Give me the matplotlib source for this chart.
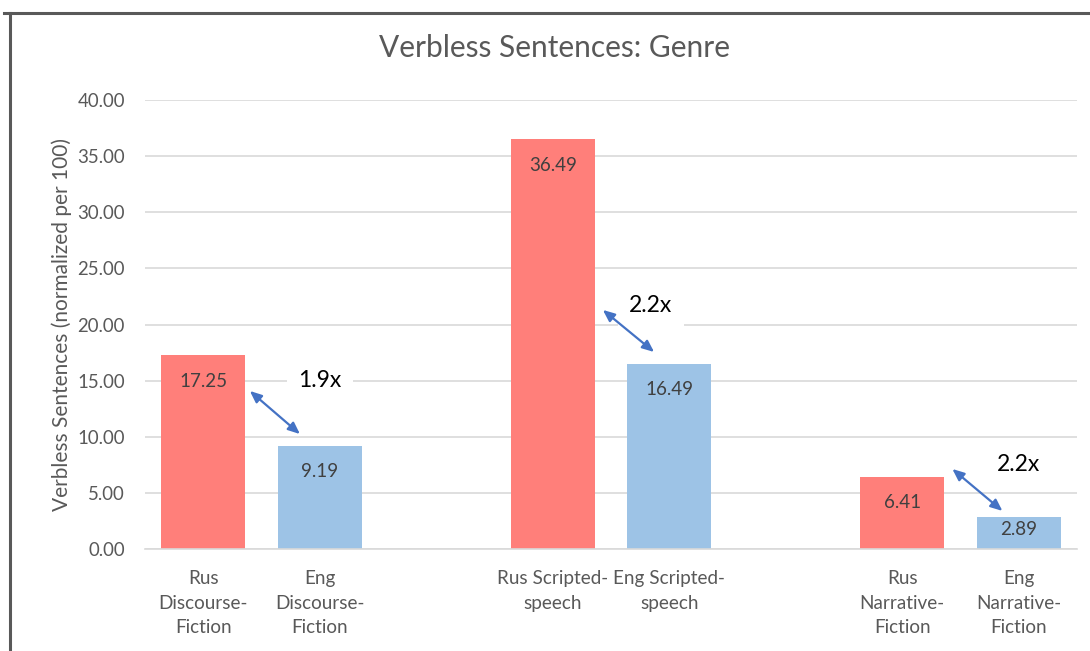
import matplotlib
matplotlib.use("Agg")
import matplotlib.pyplot as plt
from matplotlib.lines import Line2D

categories = ["Rus\nDiscourse-\nFiction", "Eng\nDiscourse-\nFiction", "",
              "Rus Scripted-\nspeech", "Eng Scripted-\nspeech", "",
              "Rus\nNarrative-\nFiction", "Eng\nNarrative-\nFiction"]
values = [17.25, 9.19, None, 36.49, 16.49, None, 6.41, 2.89]
value_labels = ["17.25", "9.19", "", "36.49", "16.49", "", "6.41", "2.89"]
bar_colors = ["#FF7F7A", "#9DC3E6", None, "#FF7F7A", "#9DC3E6", None, "#FF7F7A", "#9DC3E6"]
yticks = [0, 5, 10, 15, 20, 25, 30, 35, 40]
ratio_labels = ["1.9x", "2.2x", "2.2x"]
ratio_label_pos = [(1.0, 14.97), (3.84, 21.65), (7.0, 7.57)]
arrows = [((0.40, 14.08), (0.83, 10.24)),
          ((3.43, 21.3), (3.87, 17.55)),
          ((6.43, 7.13), (6.86, 3.39))]

FONT = "Lato"
TXT = "#595959"

fig = plt.figure(figsize=(10.9, 6.51), dpi=100)
ax = fig.add_axes([145/1090, 102/651, (1077-145)/1090, (549-100)/651])

xs = list(range(len(categories)))
for x, v, c, lab in zip(xs, values, bar_colors, value_labels):
    if v is None:
        continue
    ax.bar(x, v, width=0.725, color=c, zorder=2)
    ax.text(x, max(v - 2.3, v * 0.6), lab, ha="center", va="center", fontsize=13.5,
            color="#404040", family=FONT, zorder=3)

ax.set_xlim(-0.5, len(categories) - 0.5)
ax.set_ylim(0, 40)
ax.set_yticks(yticks)
ax.set_yticklabels([f"{t:.2f}" for t in yticks], family=FONT, fontsize=13.4, color=TXT)
ax.set_xticks(xs)
ax.set_xticklabels(categories, family=FONT, fontsize=13.6, color=TXT, linespacing=1.55)
ax.tick_params(axis="both", length=0)
ax.tick_params(axis="y", pad=14.5)
ax.tick_params(axis="x", pad=15)
ax.grid(axis="y", color="#D9D9D9", linewidth=1.2, zorder=0)
ax.set_axisbelow(True)
for s in ["top", "right", "left"]:
    ax.spines[s].set_visible(False)
ax.spines["bottom"].set_color("#D9D9D9")
ax.spines["bottom"].set_linewidth(1.2)

ax.set_ylabel("Verbless Sentences (normalized per 100)", family=FONT, fontsize=15,
              color=TXT, labelpad=4)

for lab, (lx, ly) in zip(ratio_labels, ratio_label_pos):
    ax.text(lx, ly, lab, ha="center", va="center", fontsize=16.5, color="black",
            family=FONT, zorder=4,
            bbox=dict(boxstyle="square,pad=0.5", fc="white", ec="none"))

for (p0, p1) in arrows:
    ax.annotate("", xy=p1, xytext=p0,
                arrowprops=dict(arrowstyle="<|-|>,head_length=0.7,head_width=0.3",
                                color="#4472C4", lw=1.6, shrinkA=0, shrinkB=0),
                zorder=5)

fig.text(555/1090, 1 - 48/651, "Verbless Sentences: Genre", ha="center", va="center",
         fontsize=21.5, color=TXT, family=FONT)

# chart border
fig.add_artist(Line2D([4/1090, 1], [1 - 13/651, 1 - 13/651], transform=fig.transFigure,
                      color="#595959", linewidth=2.2))
fig.add_artist(Line2D([10/1090, 10/1090], [0, 1 - 13/651], transform=fig.transFigure,
                      color="#595959", linewidth=2.2))

fig.savefig("out.png", dpi=100)
